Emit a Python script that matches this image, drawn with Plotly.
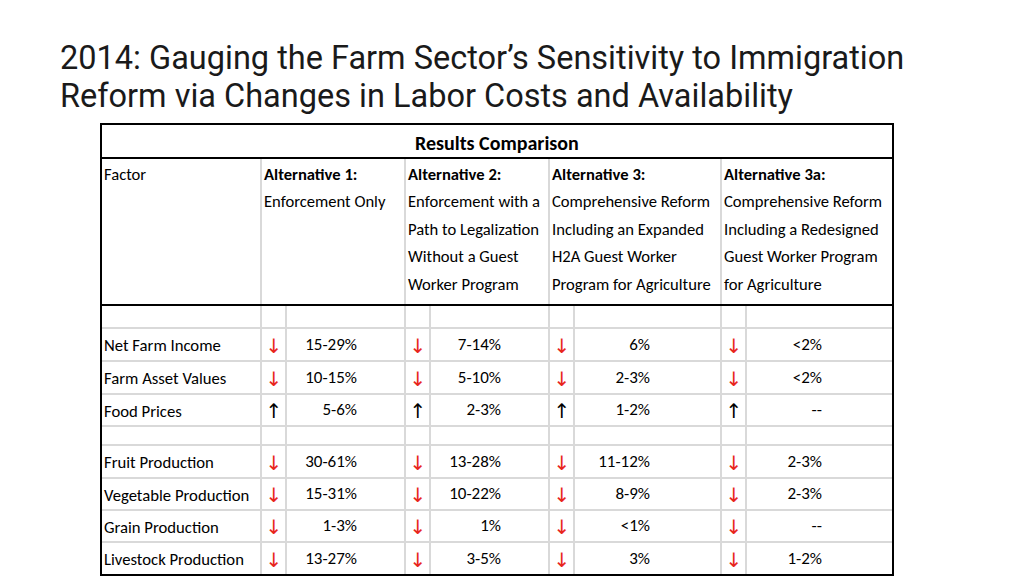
import plotly.graph_objects as go

# ---------------- data ----------------
title_lines = ["2014: Gauging the Farm Sector\u2019s Sensitivity to Immigration",
               "Reform via Changes in Labor Costs and Availability"]
table_title = "Results Comparison"
factor_header = "Factor"
alt_titles = ["Alternative 1:", "Alternative 2:", "Alternative 3:", "Alternative 3a:"]
alt_descriptions = [
    ["Enforcement Only"],
    ["Enforcement with a", "Path to Legalization", "Without a Guest", "Worker Program"],
    ["Comprehensive Reform", "Including an Expanded", "H2A Guest Worker", "Program for Agriculture"],
    ["Comprehensive Reform", "Including a Redesigned", "Guest Worker Program", "for Agriculture"],
]
factors = ["Net Farm Income", "Farm Asset Values", "Food Prices",
           "Fruit Production", "Vegetable Production", "Grain Production", "Livestock Production"]
directions = ["down", "down", "up", "down", "down", "down", "down"]
alt1 = ["15-29%", "10-15%", "5-6%", "30-61%", "15-31%", "1-3%", "13-27%"]
alt2 = ["7-14%", "5-10%", "2-3%", "13-28%", "10-22%", "1%", "3-5%"]
alt3 = ["6%", "2-3%", "1-2%", "11-12%", "8-9%", "<1%", "3%"]
alt3a = ["<2%", "<2%", "--", "2-3%", "2-3%", "--", "1-2%"]
alt_values = [alt1, alt2, alt3, alt3a]

# ---------------- layout geometry (pixel space) ----------------
W, H = 1024, 576
TBL_L, TBL_R, TBL_T, TBL_B = 101, 893, 124, 575
TITLE_SEP = 158
HEAD_SEP = 305
col_left = [261, 405, 549, 721]          # main column separators
arrow_right = [286, 430, 574, 746]       # arrow sub-column separators
value_right = [357, 501, 650, 822]
arrow_x = [274, 418, 562, 734]
row_bounds = [(328, 361), (361, 394), (394, 426), (445, 478), (478, 510), (510, 542), (542, 575)]
gray_h = [328, 361, 394, 426, 445, 478, 510, 542]

BODY_FONT = "Carlito, 'Liberation Sans Narrow', 'Roboto Condensed', Roboto, sans-serif"
TITLE_FONT = "Roboto, 'Open Sans', sans-serif"
GRID = "#d9d9d9"
HEAD_SIZE = 16.6

fig = go.Figure()
shapes = []
annotations = []

for y in gray_h:
    shapes.append(dict(type="line", x0=TBL_L, x1=TBL_R, y0=y, y1=y,
                       line=dict(color=GRID, width=2), layer="below"))
for x in col_left:
    shapes.append(dict(type="line", x0=x, x1=x, y0=TITLE_SEP, y1=TBL_B,
                       line=dict(color=GRID, width=2), layer="below"))
for x in arrow_right:
    shapes.append(dict(type="line", x0=x, x1=x, y0=HEAD_SEP, y1=TBL_B,
                       line=dict(color=GRID, width=2), layer="below"))
for y in [TITLE_SEP, HEAD_SEP]:
    shapes.append(dict(type="line", x0=TBL_L, x1=TBL_R, y0=y, y1=y,
                       line=dict(color="black", width=2)))
shapes.append(dict(type="rect", x0=TBL_L, x1=TBL_R, y0=TBL_T, y1=TBL_B,
                   line=dict(color="black", width=2)))

for i, t in enumerate(title_lines):
    annotations.append(dict(x=58, y=58 + i * 38, text=t, xanchor="left", yanchor="middle",
                            showarrow=False, font=dict(family=TITLE_FONT, size=32.5, color="#1a1a1a")))

annotations.append(dict(x=(TBL_L + TBL_R) / 2, y=143, text="<b>%s</b>" % table_title,
                        showarrow=False, xanchor="center", yanchor="middle",
                        font=dict(family=BODY_FONT, size=20, color="black")))
annotations.append(dict(x=102, y=174, text=factor_header, showarrow=False, xanchor="left",
                        yanchor="middle", font=dict(family=BODY_FONT, size=HEAD_SIZE, color="black")))
for j, (t, desc) in enumerate(zip(alt_titles, alt_descriptions)):
    annotations.append(dict(x=col_left[j] + 1, y=174, text="<b>%s</b>" % t, showarrow=False,
                            xanchor="left", yanchor="middle",
                            font=dict(family=BODY_FONT, size=HEAD_SIZE, color="black")))
    for k, line in enumerate(desc):
        annotations.append(dict(x=col_left[j] + 1, y=201 + k * 27.5, text=line, showarrow=False,
                                xanchor="left", yanchor="middle",
                                font=dict(family=BODY_FONT, size=HEAD_SIZE, color="black")))

centers = [(a + b) / 2 for a, b in row_bounds]
fig.add_trace(go.Scatter(x=[104] * len(factors), y=[c + 2.5 for c in centers], text=factors,
                         mode="text", textposition="middle right", hoverinfo="skip",
                         textfont=dict(family=BODY_FONT, size=16.7, color="black")))
for j, vals in enumerate(alt_values):
    fig.add_trace(go.Scatter(x=[value_right[j]] * len(vals), y=[c + 1 for c in centers], text=vals,
                             mode="text", textposition="middle left", hoverinfo="skip",
                             textfont=dict(family=BODY_FONT, size=17, color="black")))
    arrows = ["\u2193" if d == "down" else "\u2191" for d in directions]
    colors = ["#e8261d" if d == "down" else "black" for d in directions]
    fig.add_trace(go.Scatter(x=[arrow_x[j]] * len(vals), y=[c + 3 for c in centers], text=arrows,
                             mode="text", textposition="middle center", hoverinfo="skip",
                             textfont=dict(family="'DejaVu Sans', sans-serif", size=20, color=colors)))

fig.update_layout(
    width=W, height=H, margin=dict(l=0, r=0, t=0, b=0),
    paper_bgcolor="white", plot_bgcolor="white", showlegend=False,
    xaxis=dict(range=[0, W], visible=False, fixedrange=True),
    yaxis=dict(range=[H, 0], visible=False, fixedrange=True),
    shapes=shapes, annotations=annotations,
)
fig.write_html("out.html", config={"displayModeBar": False},
               post_script="document.body.style.margin='0';")
